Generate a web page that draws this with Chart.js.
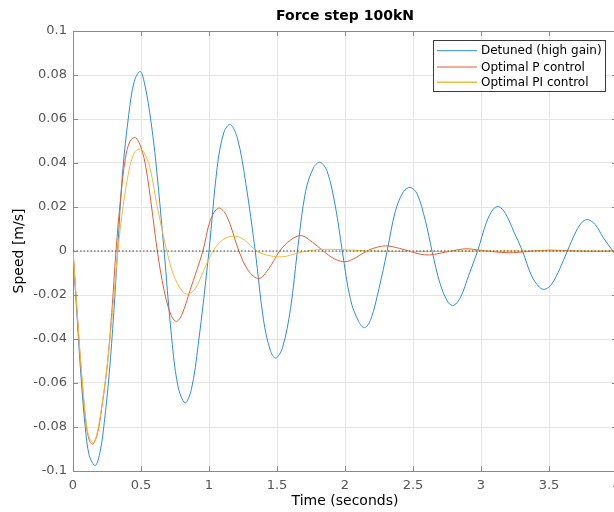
<!DOCTYPE html>
<html>
<head>
<meta charset="utf-8">
<script src="https://cdn.jsdelivr.net/npm/chart.js@4/dist/chart.umd.min.js"></script>
<style>
  html, body { margin: 0; padding: 0; background: #fff; overflow: hidden; }
  #wrap { width: 640px; height: 512px; }
</style>
</head>
<body>
<div id="wrap"><canvas id="myChart" width="640" height="512"></canvas></div>
<script>
'use strict';

const chartTitle = 'Force step 100kN';
const seriesNames = ['Detuned (high gain)', 'Optimal P control', 'Optimal PI control'];
const xTicks = [0, 0.5, 1, 1.5, 2, 2.5, 3, 3.5, 4];
const yTicks = [-0.1, -0.08, -0.06, -0.04, -0.02, 0, 0.02, 0.04, 0.06, 0.08, 0.1];

// detuned (high gain)
const detunedT = [0, 0.03, 0.06, 0.09, 0.12, 0.164, 0.2, 0.23, 0.266, 0.3, 0.328, 0.365, 0.41, 0.45, 0.494,
  0.53, 0.573, 0.61, 0.67, 0.72, 0.77, 0.824, 0.87, 0.92, 1.0, 1.06, 1.11, 1.157, 1.21, 1.27, 1.34,
  1.4, 1.45, 1.49, 1.54, 1.6, 1.65, 1.71, 1.77, 1.818, 1.87, 1.93, 1.98, 2.04, 2.1, 2.143, 2.19, 2.25,
  2.31, 2.37, 2.43, 2.48, 2.53, 2.59, 2.64, 2.7, 2.76, 2.8, 2.85, 2.91, 2.975, 3.04, 3.09, 3.13, 3.18,
  3.24, 3.305, 3.37, 3.43, 3.47, 3.52, 3.58, 3.635, 3.7, 3.75, 3.79, 3.84, 3.9, 3.97, 4.0];
const detunedV = [0, -0.03, -0.058, -0.08, -0.093, -0.0975, -0.091, -0.078, -0.056, -0.028, 0, 0.036, 0.062, 0.077, 0.0816,
  0.075, 0.059, 0.04, 0, -0.036, -0.061, -0.069, -0.063, -0.043, 0, 0.038, 0.054, 0.0575, 0.051, 0.031, 0,
  -0.031, -0.045, -0.0487, -0.044, -0.026, 0, 0.027, 0.038, 0.0403, 0.036, 0.02, 0, -0.022, -0.032, -0.0349, -0.031, -0.017,
  0, 0.018, 0.027, 0.0289, 0.026, 0.014, 0, -0.015, -0.0235, -0.0247, -0.021, -0.011, 0, 0.013, 0.019, 0.0202, 0.017,
  0.009, 0, -0.011, -0.0165, -0.0174, -0.015, -0.008, 0, 0.009, 0.0135, 0.0142, 0.012, 0.006, 0, -0.0025];

// optimal P control
const pT = [0, 0.03, 0.06, 0.095, 0.12, 0.145, 0.18, 0.21, 0.25, 0.285, 0.316, 0.35, 0.385, 0.42, 0.46,
  0.5, 0.536, 0.578, 0.62, 0.67, 0.72, 0.76, 0.8, 0.86, 0.955, 1.01, 1.07, 1.13, 1.22, 1.29, 1.367,
  1.44, 1.52, 1.6, 1.68, 1.76, 1.84, 1.92, 2.0, 2.08, 2.16, 2.24, 2.31, 2.4, 2.47, 2.55, 2.62, 2.7,
  2.78, 2.89, 3.0, 3.2, 3.35, 3.5, 3.7, 3.85, 4.0];
const pV = [0, -0.028, -0.054, -0.078, -0.086, -0.0878, -0.083, -0.072, -0.053, -0.028, 0, 0.024, 0.042, 0.05, 0.0515,
  0.047, 0.038, 0.02, 0, -0.018, -0.029, -0.032, -0.029, -0.018, 0, 0.014, 0.0195, 0.016, 0, -0.009, -0.0125,
  -0.008, 0, 0.005, 0.007, 0.004, 0, -0.0035, -0.0049, -0.003, 0, 0.0018, 0.0023, 0.0012, 0, -0.0014, -0.0018, -0.001,
  0, 0.001, 0.0003, -0.0008, -0.0002, 0.0004, 0, -0.0002, 0.0001];

// optimal PI control
const piT = [0, 0.03, 0.06, 0.095, 0.12, 0.15, 0.18, 0.21, 0.25, 0.29, 0.33, 0.37, 0.413, 0.45, 0.487,
  0.52, 0.565, 0.62, 0.69, 0.74, 0.8, 0.846, 0.9, 0.96, 1.03, 1.1, 1.184, 1.26, 1.35, 1.45, 1.545,
  1.65, 1.75, 1.9, 2.05, 2.2, 2.5, 3.0, 4.0];
const piV = [0, -0.027, -0.053, -0.077, -0.085, -0.087, -0.082, -0.071, -0.053, -0.028, 0, 0.021, 0.037, 0.0445, 0.0464,
  0.045, 0.038, 0.02, 0, -0.011, -0.018, -0.0196, -0.017, -0.009, 0, 0.005, 0.0068, 0.005, 0, -0.0022, -0.0026,
  -0.001, 0.0003, 0.0008, 0.0004, 0, -0.0002, 0, 0];

const zeroLineT = [0, 4];
const zeroLineV = [0, 0];

const colors = ['#2f8ed0', '#dc6136', '#efbb3c'];

function pts(t, v) {
  return t.map((x, i) => ({ x: x, y: v[i] }));
}

const FONT = "'DejaVu Sans', sans-serif";

// box, inner ticks, title and legend like the original figure
const decor = {
  id: 'decor',
  afterDatasetsDraw(chart) {
    const { ctx, chartArea: a, scales } = chart;
    ctx.save();
    ctx.strokeStyle = '#8a8a8a';
    ctx.lineWidth = 1;
    ctx.beginPath();
    ctx.moveTo(a.left, a.top + 0.5);
    ctx.lineTo(a.right, a.top + 0.5);
    ctx.moveTo(a.right - 0.5, a.top);
    ctx.lineTo(a.right - 0.5, a.bottom);
    xTicks.forEach(t => {
      const px = Math.round(scales.x.getPixelForValue(t)) + 0.5;
      ctx.moveTo(px, a.bottom); ctx.lineTo(px, a.bottom - 5);
      ctx.moveTo(px, a.top); ctx.lineTo(px, a.top + 5);
    });
    yTicks.forEach(v => {
      const py = Math.round(scales.y.getPixelForValue(v)) + 0.5;
      ctx.moveTo(a.left, py); ctx.lineTo(a.left + 5, py);
      ctx.moveTo(a.right, py); ctx.lineTo(a.right - 5, py);
    });
    ctx.stroke();

    // title
    ctx.fillStyle = '#000';
    ctx.font = 'bold 14px ' + FONT;
    ctx.textAlign = 'center';
    ctx.textBaseline = 'middle';
    ctx.fillText(chartTitle, (a.left + a.right) / 2, 16);

    // legend
    const bx = 433.5, by = 40.5, bw = 172, bh = 51;
    ctx.fillStyle = '#fff';
    ctx.fillRect(bx, by, bw, bh);
    ctx.strokeStyle = '#3a3a3a';
    ctx.strokeRect(bx, by, bw, bh);
    ctx.font = '12px ' + FONT;
    ctx.textAlign = 'left';
    const rows = [50.7, 67, 82.3];
    seriesNames.forEach((name, i) => {
      ctx.strokeStyle = colors[i];
      ctx.lineWidth = i === 2 ? 1.5 : 1;
      ctx.beginPath();
      ctx.moveTo(437, rows[i]);
      ctx.lineTo(477, rows[i]);
      ctx.stroke();
      ctx.fillStyle = '#000';
      ctx.fillText(name, 481, rows[i] + 0.5);
    });
    ctx.restore();
  }
};

const ctx = document.getElementById('myChart').getContext('2d');
const myChart = new Chart(ctx, {
  type: 'line',
  data: {
    datasets: [
      {
        label: 'zero',
        data: pts(zeroLineT, zeroLineV),
        borderColor: '#444',
        borderWidth: 1,
        borderDash: [1.5, 2],
        pointRadius: 0,
        order: 0,
      },
      {
        label: seriesNames[0],
        data: pts(detunedT, detunedV),
        borderColor: colors[0],
        borderWidth: 1,
        pointRadius: 0,
        tension: 0.35,
        order: 3,
      },
      {
        label: seriesNames[1],
        data: pts(pT, pV),
        borderColor: colors[1],
        borderWidth: 1,
        pointRadius: 0,
        tension: 0.35,
        order: 2,
      },
      {
        label: seriesNames[2],
        data: pts(piT, piV),
        borderColor: colors[2],
        borderWidth: 1,
        pointRadius: 0,
        tension: 0.35,
        order: 1,
      },
    ],
  },
  options: {
    responsive: false,
    animation: false,
    layout: { padding: { top: 31, right: 23, left: 0, bottom: 0 } },
    plugins: {
      legend: { display: false },
      title: { display: false },
      tooltip: { enabled: false },
    },
    scales: {
      x: {
        type: 'linear',
        min: 0,
        max: 4,
        afterBuildTicks: s => { s.ticks = xTicks.map(v => ({ value: v })); },
        afterFit: s => { s.height = 41; },
        grid: { color: '#e4e4e4', drawTicks: false },
        border: { color: '#8a8a8a' },
        ticks: {
          padding: 7,
          color: '#555',
          font: { family: FONT, size: 13 },
          maxRotation: 0,
          callback: v => String(v),
        },
        title: {
          display: true,
          text: 'Time (seconds)',
          color: '#000',
          font: { family: FONT, size: 14 },
          padding: { top: 0, bottom: 2 },
        },
      },
      y: {
        min: -0.1,
        max: 0.1,
        afterBuildTicks: s => { s.ticks = yTicks.map(v => ({ value: v })); },
        afterFit: s => { s.width = 73; },
        grid: { color: '#e4e4e4', drawTicks: false },
        border: { color: '#8a8a8a' },
        ticks: {
          padding: 6,
          color: '#555',
          font: { family: FONT, size: 13 },
          callback: v => String(Math.round(v * 100) / 100),
        },
        title: {
          display: true,
          text: 'Speed [m/s]',
          color: '#000',
          font: { family: FONT, size: 14 },
          padding: { top: 11, bottom: 0 },
        },
      },
    },
  },
  plugins: [decor],
});
</script>
</body>
</html>
